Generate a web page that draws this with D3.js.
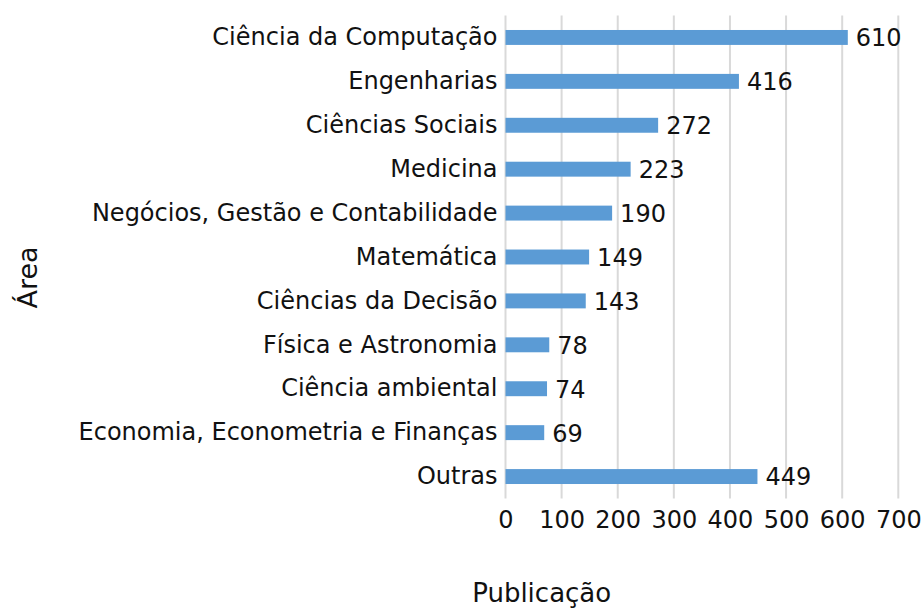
<!DOCTYPE html>
<html><head><meta charset="utf-8">
<script src="https://cdn.jsdelivr.net/npm/d3@7/dist/d3.min.js"></script>
<style>body{margin:0;background:#fff}svg{display:block}text{font-family:"DejaVu Sans",sans-serif;fill:#111}</style>
</head><body><svg id="c" width="922" height="608"></svg>
<script>
const categories = ["Ciência da Computação","Engenharias","Ciências Sociais","Medicina","Negócios, Gestão e Contabilidade","Matemática","Ciências da Decisão","Física e Astronomia","Ciência ambiental","Economia, Econometria e Finanças","Outras"];
const values = [610,416,272,223,190,149,143,78,74,69,449];
const xTicks = [0,100,200,300,400,500,600,700];
const xTitle = "Publicação";
const yTitle = "Área";

(function(){
const svg = d3.select("#c");
const pl = 505.5, pr = 898.3, pt = 15.5, pb = 498.5;
const x = d3.scaleLinear().domain([0,700]).range([pl,pr]);
const y = d3.scaleBand().domain(categories).range([pt,pb]).paddingInner(0.66).paddingOuter(0.33);

svg.append("g").selectAll("line").data(xTicks).join("line")
  .attr("x1",d=>x(d)).attr("x2",d=>x(d)).attr("y1",pt).attr("y2",pb)
  .attr("stroke","#d9d9d9").attr("stroke-width",2);

svg.append("g").selectAll("rect").data(values).join("rect")
  .attr("x",x(0)).attr("y",(d,i)=>y(categories[i]))
  .attr("width",d=>x(d)-x(0)).attr("height",y.bandwidth())
  .attr("fill","#5b9bd5");

svg.append("g").selectAll("text").data(values).join("text")
  .attr("x",d=>x(d)+8).attr("y",(d,i)=>y(categories[i])+y.bandwidth()/2)
  .attr("dy","0.37em").attr("font-size",24).text(d=>d);

const ya = svg.append("g").attr("transform",`translate(${pl},0)`).call(d3.axisLeft(y).tickSize(0).tickPadding(8));
ya.select(".domain").remove();
ya.selectAll("text").attr("font-size",24).attr("font-family","DejaVu Sans").attr("fill","#111");

const xa = svg.append("g").attr("transform",`translate(0,${pb})`).call(d3.axisBottom(x).tickValues(xTicks).tickSize(0).tickPadding(12));
xa.select(".domain").remove();
xa.selectAll("text").attr("font-size",24).attr("font-family","DejaVu Sans").attr("fill","#111");

svg.append("text").attr("x",541.7).attr("y",601.5).attr("text-anchor","middle").attr("font-size",26).text(xTitle);
svg.append("text").attr("transform","translate(36.5,277.5) rotate(-90)").attr("text-anchor","middle").attr("font-size",27).text(yTitle);
})();
</script></body></html>
